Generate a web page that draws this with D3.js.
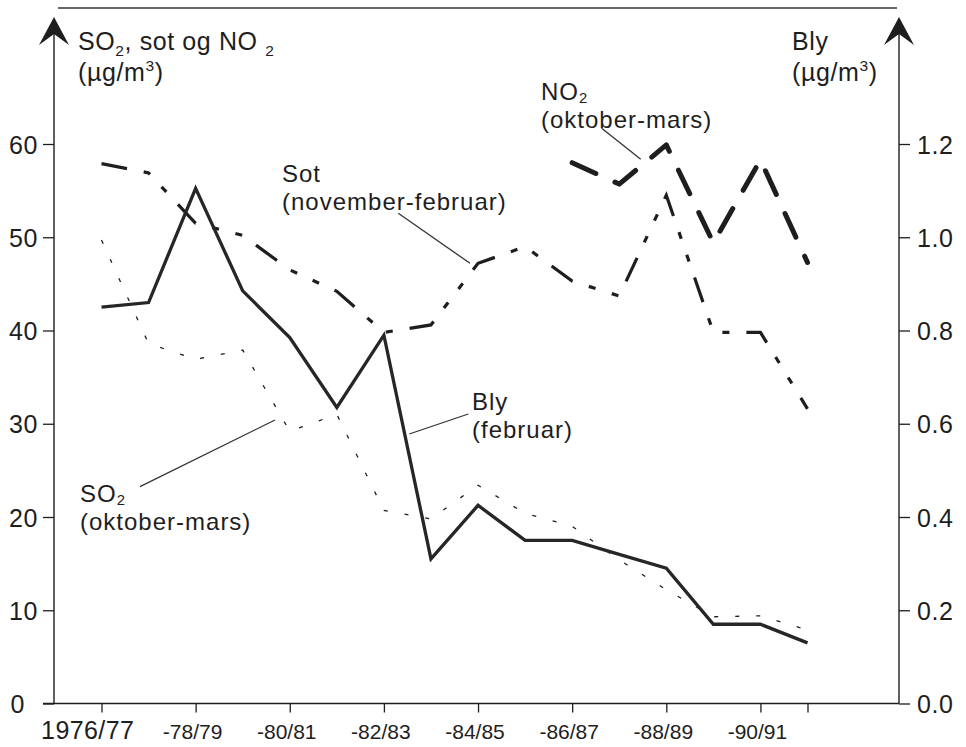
<!DOCTYPE html>
<html>
<head>
<meta charset="utf-8">
<script src="https://cdn.jsdelivr.net/npm/d3@7"></script>
<style>
  html, body { margin: 0; padding: 0; background: #fff; }
  svg { display: block; font-family: "Liberation Sans", Arial, Helvetica, sans-serif; }
</style>
</head>
<body>
<svg id="chart" width="966" height="747"></svg>
<script>
// Winter seasons 1976/77 – 1991/92
const seasons = ["1976/77","1977/78","1978/79","1979/80","1980/81","1981/82","1982/83","1983/84",
                 "1984/85","1985/86","1986/87","1987/88","1988/89","1989/90","1990/91","1991/92"];
const xTickIndex  = [0, 2, 4, 6, 8, 10, 12, 14, 15];
const xTickLabels = ["1976/77","-78/79","-80/81","-82/83","-84/85","-86/87","-88/89","-90/91",""];
const leftTicks  = [0, 10, 20, 30, 40, 50, 60];
const rightTicks = [0, 0.2, 0.4, 0.6, 0.8, 1.0, 1.2];

// µg/m3, left axis
const so2 = [49.7, 38.6, 36.9, 37.9, 29.2, 31.0, 20.7, 19.8, 23.4, 20.4, 19.0, 15.4, 12.2, 9.3, 9.4, 7.9];
const sot = [57.9, 56.9, 51.5, 50.2, 46.5, 44.2, 39.8, 40.6, 47.2, 49.0, 45.3, 43.7, 54.5, 39.8, 39.8, 31.6];
const no2 = [null, null, null, null, null, null, null, null, null, null, 58.0, 55.7, 59.9, 49.4, 58.3, 47.3];
// µg/m3, right axis
const bly = [0.85, 0.86, 1.105, 0.885, 0.785, 0.635, 0.79, 0.31, 0.425, 0.35, 0.35, 0.32, 0.29, 0.17, 0.17, 0.13];

const INK = "#1e1e1e";
const svg = d3.select("#chart");

const axisLeftX = 54, axisRightX = 899, baseY = 703.5;

const x  = d3.scaleLinear().domain([0, seasons.length - 1]).range([101.5, 807.5]);
const yL = d3.scaleLinear().domain([0, 60]).range([baseY, 144]);
const yR = d3.scaleLinear().domain([0, 1.2]).range([baseY, 144]);

// frame line along the top
svg.append("line")
  .attr("x1", 58).attr("x2", 897).attr("y1", 8).attr("y2", 8)
  .attr("stroke", "#333").attr("stroke-width", 1.5);

// vertical axis lines with arrow heads
function arrowAxis(ax) {
  svg.append("line")
    .attr("x1", ax).attr("x2", ax).attr("y1", baseY).attr("y2", 30)
    .attr("stroke", INK).attr("stroke-width", 1.4);
  svg.append("path")
    .attr("d", `M${ax},17 L${ax + 15},45 L${ax},34 L${ax - 15},45 Z`)
    .attr("fill", INK);
}
arrowAxis(axisLeftX);
arrowAxis(axisRightX);

// baseline
svg.append("line")
  .attr("x1", axisLeftX - 11).attr("x2", axisRightX).attr("y1", baseY).attr("y2", baseY)
  .attr("stroke", INK).attr("stroke-width", 1.4);

// left axis
const gL = svg.append("g").attr("transform", `translate(${axisLeftX},0)`)
  .call(d3.axisLeft(yL).tickValues(leftTicks).tickSize(11).tickFormat(d3.format("d")));
gL.select(".domain").remove();
gL.selectAll(".tick line").attr("stroke", INK).attr("stroke-width", 1.3);
gL.selectAll(".tick text")
  .attr("x", d => d === 0 ? -29 : -16).attr("dy", "0.36em")
  .attr("font-size", 25).attr("letter-spacing", 0.6).attr("fill", INK)
  .attr("font-family", "Liberation Sans, Arial, sans-serif");

// right axis
const gR = svg.append("g").attr("transform", `translate(${axisRightX},0)`)
  .call(d3.axisRight(yR).tickValues(rightTicks).tickSize(11).tickFormat(d3.format(".1f")));
gR.select(".domain").remove();
gR.selectAll(".tick line").attr("stroke", INK).attr("stroke-width", 1.3);
gR.selectAll(".tick text")
  .attr("x", 18).attr("dy", "0.36em")
  .attr("font-size", 25).attr("letter-spacing", 0.6).attr("fill", INK)
  .attr("font-family", "Liberation Sans, Arial, sans-serif");

// bottom axis, labels aligned on the slash
const gB = svg.append("g").attr("transform", `translate(0,${baseY})`)
  .call(d3.axisBottom(x).tickValues(xTickIndex).tickSize(9)
        .tickFormat((d, i) => xTickLabels[i]));
gB.select(".domain").remove();
gB.selectAll(".tick line").attr("stroke", INK).attr("stroke-width", 1.3);
gB.selectAll(".tick text")
  .attr("y", 35.5).attr("dy", null)
  .attr("font-size", (d, i) => i === 0 ? 25 : 21)
  .attr("letter-spacing", (d, i) => i === 0 ? 0.4 : 0)
  .attr("fill", INK)
  .attr("font-family", "Liberation Sans, Arial, sans-serif")
  .attr("text-anchor", "start")
  .each(function () {
    const t = this.textContent;
    const k = t.indexOf("/");
    if (k < 0) return;
    const pre = k > 0 ? this.getSubStringLength(0, k) : 0;
    const sl = this.getSubStringLength(k, 1);
    d3.select(this).attr("x", -(pre + sl / 2));
  });

// series
const line = d3.line().defined(d => d != null).x((d, i) => x(i));

svg.append("path").datum(so2)
  .attr("d", line.y(d => yL(d)))
  .attr("fill", "none").attr("stroke", INK).attr("stroke-width", 1.3)
  .attr("stroke-dasharray", "4,17");

svg.append("path").datum(sot)
  .attr("d", line.y(d => yL(d)))
  .attr("fill", "none").attr("stroke", INK).attr("stroke-width", 3.2)
  .attr("stroke-dasharray", "26,17,7,17,7,17");

svg.append("path").datum(no2)
  .attr("d", line.y(d => yL(d)))
  .attr("fill", "none").attr("stroke", INK).attr("stroke-width", 5)
  .attr("stroke-linecap", "round").attr("stroke-linejoin", "round")
  .attr("stroke-dasharray", "26,21");

svg.append("path").datum(bly)
  .attr("d", line.y(d => yR(d)))
  .attr("fill", "none").attr("stroke", "#262626").attr("stroke-width", 3.3)
  .attr("stroke-linejoin", "miter");

// multi-line label as a single text element; runs marked "sub"/"sup" are shifted
function block(xp, yp, lines, size, gap, spacing, subShift) {
  const t = svg.append("text").attr("x", xp).attr("y", yp)
    .attr("font-size", size).attr("letter-spacing", spacing).attr("fill", INK);
  lines.forEach((parts, i) => {
    parts.forEach((p, j) => {
      const ts = t.append("tspan").text(p[0]);
      if (j === 0 && i > 0) ts.attr("x", xp).attr("y", yp + i * gap);
      if (p[1] === "sub") ts.attr("font-size", size * 0.62).attr("baseline-shift", -subShift);
      if (p[1] === "sup") ts.attr("font-size", size * 0.62).attr("baseline-shift", "0.62em");
    });
  });
}

// axis titles
block(78, 50, [
  [["SO"], ["2", "sub"], [", sot og NO "], ["2", "sub"]],
  [["(µg/m"], ["3", "sup"], [")"]]
], 25, 31, 0.6, 6);
block(792, 50, [
  [["Bly"]],
  [["(µg/m"], ["3", "sup"], [")"]]
], 25, 31, 0.6, 6);

// series annotations
block(541, 100, [[["NO"], ["2", "sub"]], [["(oktober-mars)"]]], 24, 28, 1.0, 2.5);
block(282, 182, [[["Sot"]], [["(november-februar)"]]], 24, 28, 1.0, 2.5);
block(472, 410, [[["Bly"]], [["(februar)"]]], 24, 28, 1.0, 2.5);
block(80, 502, [[["SO"], ["2", "sub"]], [["(oktober-mars)"]]], 24, 28, 1.0, 2.5);

// leader lines
const leaders = [
  [[601.7, 128.3], [640.7, 159.3]],
  [[398.3, 213.3], [470, 263.3]],
  [[468.3, 414], [409.3, 434]],
  [[140, 486.7], [275, 420]]
];
svg.selectAll(".leader").data(leaders).enter().append("line")
  .attr("class", "leader")
  .attr("x1", d => d[0][0]).attr("y1", d => d[0][1])
  .attr("x2", d => d[1][0]).attr("y2", d => d[1][1])
  .attr("stroke", "#333").attr("stroke-width", 1.3);
</script>
</body>
</html>
